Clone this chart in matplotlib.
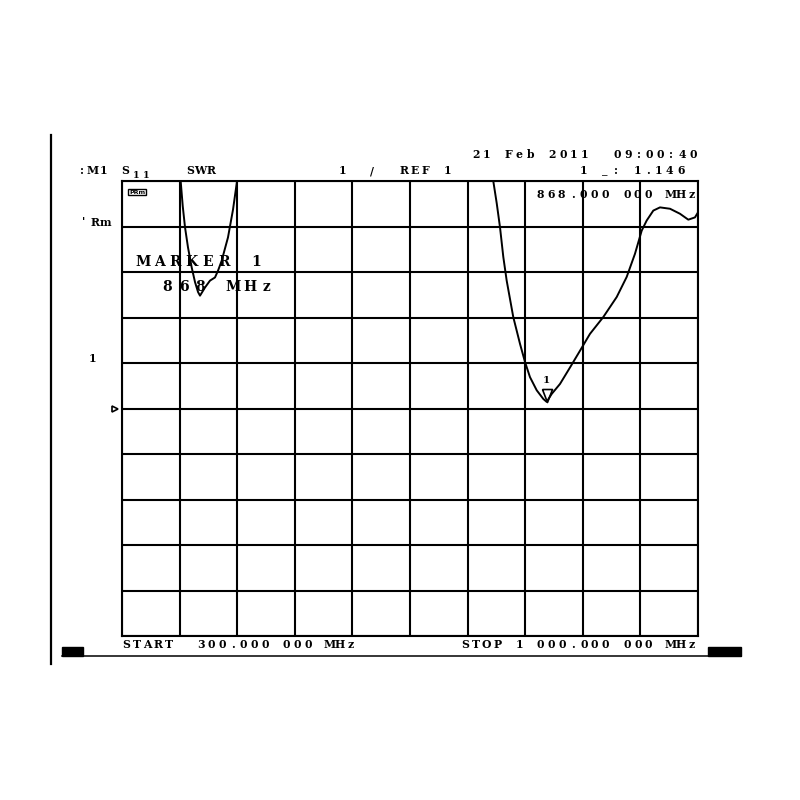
import numpy as np
import matplotlib
matplotlib.use('Agg')
import matplotlib.pyplot as plt
from matplotlib.patches import Rectangle

# trace (S11 SWR, 300-1000 MHz), clipped at top of screen = 6
freq_mhz = [300, 371.3, 373.8, 376.6, 380.2, 384.7, 388.7, 392.4, 394.8, 400.9,
            406.9, 413.0, 416.7, 421.2, 425.2, 428.8, 434.9, 439.8,
            751.2, 755.4, 759.4, 763.4, 767.5, 775.5, 783.7, 789.8, 795.8, 804.0,
            812.0, 816.1, 822.2, 832.3, 844.4, 856.6, 868.7, 884.9, 901.2, 913.3,
            923.4, 931.6, 937.6, 945.7, 953.8, 966.0, 978.1, 988.2, 996.3, 1000]
swr = [6, 6, 5.45, 4.98, 4.54, 4.10, 3.78, 3.56, 3.48, 3.66,
       3.81, 3.88, 4.03, 4.25, 4.52, 4.76, 5.37, 6,
       6, 5.51, 4.98, 4.33, 3.81, 3.01, 2.42, 2.02, 1.69, 1.40,
       1.21, 1.146, 1.32, 1.54, 1.90, 2.27, 2.64, 3.01, 3.45, 3.89,
       4.40, 4.91, 5.13, 5.35, 5.42, 5.39, 5.28, 5.15, 5.20, 5.31]

start_mhz = 300
stop_mhz = 1000
ref_val = 1
scale_per_div = 1
marker_freq = 816.1
marker_swr = 1.146

fig = plt.figure(figsize=(8, 8), dpi=100)
fig.patch.set_facecolor('white')

# grid area (pixels: x 122-698, y 181-636)
ax = fig.add_axes([122 / 800, 1 - 636 / 800, 576 / 800, 455 / 800])
ax.set_xlim(start_mhz, stop_mhz)
ax.set_ylim(ref_val - 5 * scale_per_div, ref_val + 5 * scale_per_div)
ax.set_xticks(np.linspace(start_mhz, stop_mhz, 11))
ax.set_yticks(np.linspace(ref_val - 5, ref_val + 5, 11))
ax.tick_params(length=0, labelbottom=False, labelleft=False)
ax.grid(True, color='black', lw=1.5)
for s in ax.spines.values():
    s.set_linewidth(1.5)

ax.plot(freq_mhz, np.minimum(swr, ref_val + 5), color='black', lw=1.4, zorder=3)

# marker 1
tri = [(-5, 13), (5, 13), (0, 0), (-5, 13)]
ax.plot([marker_freq], [marker_swr], marker=tri, markersize=18.7, mfc='none',
        mec='black', mew=1.2, ls='none', zorder=4)
ax.annotate('1', xy=(marker_freq, marker_swr), xytext=(0, 21), textcoords='offset pixels',
            ha='center', va='center', fontsize=7.5, fontweight='heavy', family='DejaVu Serif')

# reference level arrow on the left edge
ax.plot([-0.012], [ref_val], marker='>', markersize=5, mfc='white', mec='black', mew=1.2,
        transform=ax.get_yaxis_transform(), clip_on=False)

# overlay in pixel coordinates for screen annotations
ov = fig.add_axes([0, 0, 1, 1])
ov.set_xlim(0, 800)
ov.set_ylim(800, 0)
ov.axis('off')


def put(x, y, s, pitch=10.85, size=7.8):
    # instrument font: one character per cell
    for i, c in enumerate(s):
        if c != ' ':
            ov.text(x + i * pitch, y, c, ha='center', va='center', fontsize=size,
                    fontweight='heavy', family='DejaVu Serif')


put(476, 155, '21 Feb 2011  09:00:40')
put(82, 171, ':M1')
put(125, 171, 'S')
put(136, 176, '11', pitch=10, size=7)
put(190, 171, 'SWR', pitch=10.5)
put(342, 171, '1')
put(372, 171, '/')
put(404, 171, 'REF 1')
put(583, 171, '1 _: 1.146')
put(540, 194, '868.000 000 MHz')
put(84, 222, "'Rm")
put(92, 359, '1')
put(143, 262, 'MARKER 1', pitch=16.2, size=10)
put(167, 287, '868 MHz', pitch=16.5, size=10)
put(126, 645, 'START  300.000 000 MHz', pitch=10.7)
put(465, 645, 'STOP 1 000.000 000 MHz', pitch=10.8)

ov.text(137, 192, 'PRm', ha='center', va='center', fontsize=4.5, fontweight='bold',
        bbox=dict(boxstyle='square,pad=0.15', fc='white', ec='black', lw=1))

# frame bits around the screen
ov.plot([51, 51], [135, 664], color='black', lw=1.6)
ov.plot([62, 741], [656, 656], color='black', lw=1.1)
ov.add_patch(Rectangle((62, 647), 21, 9, color='black'))
ov.add_patch(Rectangle((708, 647), 33, 9, color='black'))

fig.savefig('out.png', dpi=100)
